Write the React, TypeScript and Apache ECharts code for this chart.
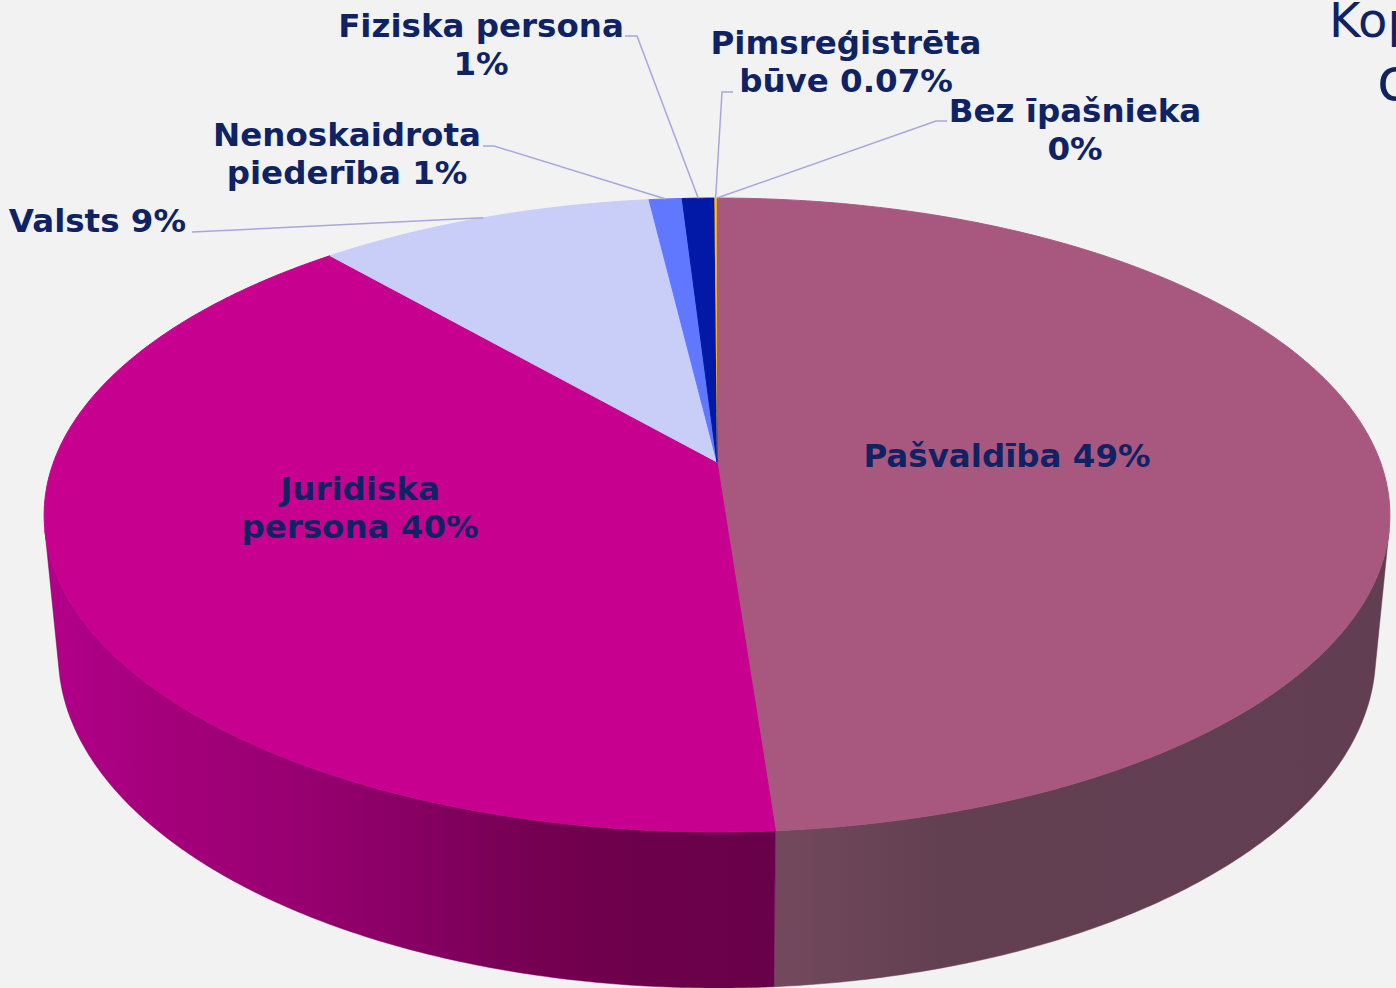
import React, { useEffect, useRef } from 'react';
import * as echarts from 'echarts';

// ---- data ----
const categories = [
  'Pašvaldība',
  'Juridiska persona',
  'Valsts',
  'Nenoskaidrota piederība',
  'Fiziska persona',
  'Pimsreģistrēta būve',
  'Bez īpašnieka',
];
const values = [48.78, 39.72, 9.49, 0.93, 0.9, 0.07, 0.004];
const percentLabels = ['49%', '40%', '9%', '1%', '1%', '0.07%', '0%'];

// ---- styles ----
const topColors = ['#A8587E', '#C8008F', '#C8CEF8', '#5F78FF', '#0219A8', '#FFC000', '#E8302A'];
const wallStops: Array<Array<[number, string]>> = [
  [[0, '#73495E'], [0.14, '#6A4457'], [0.28, '#633F52'], [1, '#613E51']],
  [[0, '#B2008A'], [0.16, '#A4007B'], [0.34, '#980071'], [0.48, '#8A0065'], [0.61, '#7A0058'], [0.71, '#72004F'], [0.83, '#6C004B'], [1, '#69004A']],
  [[0, '#9AA0C8'], [1, '#8A90B8']],
  [[0, '#4058C8'], [1, '#3048B8']],
  [[0, '#011280'], [1, '#011070']],
  [[0, '#C09000'], [1, '#B08000']],
  [[0, '#B02020'], [1, '#A01818']],
];
const TEXT_COLOR = '#0F2364';
const LEADER_COLOR = '#A9A6DA';
const LABEL_FONT = 'bold 32.5px "DejaVu Sans", Verdana, sans-serif';

// label layout (positions only)
const labelLayout = [
  { x: 1007, y: 456, align: 'center', wrap: 0, line: [] as number[][] },
  { x: 360, y: 508, align: 'center', wrap: 1, line: [] as number[][] },
  { x: 186, y: 221, align: 'right', wrap: 0, line: [[192, 232]] },
  { x: 347, y: 154, align: 'center', wrap: 1, line: [[483, 146], [494, 146]] },
  { x: 481, y: 45, align: 'center', wrap: 2, line: [[625, 36], [637, 36]] },
  { x: 846, y: 62, align: 'center', wrap: 1, line: [[733, 92], [722, 92]] },
  { x: 1075, y: 130, align: 'center', wrap: 2, line: [[947, 121], [936, 121]] },
];

// 3D perspective geometry
const PIE = { cx: 717, cy: 462, focal: 3514, dist: 5.297, tilt: Math.asin(0.4644), depth: 0.24 };

function project(t: number, z: number): number[] {
  const s = Math.sin(t);
  const c = Math.cos(t);
  const cp = Math.cos(PIE.tilt);
  const sp = Math.sin(PIE.tilt);
  const d = PIE.dist + c * cp - z * sp;
  return [PIE.cx + (PIE.focal * s) / d, PIE.cy - (PIE.focal * (c * sp + z * cp)) / d];
}

function arc(a0: number, a1: number, z: number): number[][] {
  const n = Math.max(2, Math.ceil(Math.abs(a1 - a0) / 0.008));
  const pts: number[][] = [];
  for (let k = 0; k <= n; k++) pts.push(project(a0 + ((a1 - a0) * k) / n, z));
  return pts;
}

function labelText(i: number): string {
  const words = (categories[i] + ' ' + percentLabels[i]).split(' ');
  const w = labelLayout[i].wrap;
  if (!w) return words.join(' ');
  return words.slice(0, w).join(' ') + '\n' + words.slice(w).join(' ');
}

export default function App() {
  const ref = useRef<HTMLDivElement>(null);

  useEffect(() => {
    document.body.style.margin = '0';
    const chart = echarts.init(ref.current!, null, { renderer: 'svg' });
    const total = values.reduce((a, b) => a + b, 0);
    const starts: number[] = [];
    let acc = 0;
    values.forEach((v) => {
      starts.push((acc / total) * Math.PI * 2);
      acc += v;
    });
    const visLimit = Math.acos(-1 / (PIE.dist * Math.cos(PIE.tilt)));
    const visLo = visLimit;
    const visHi = Math.PI * 2 - visLimit;

    const renderItem = (params: any, api: any) => {
      const i = params.dataIndex;
      const v = api.value(0);
      const a0 = starts[i];
      const a1 = a0 + (v / total) * Math.PI * 2;
      const children: any[] = [];
      const big = a1 - a0 > 0.02;
      // top face
      children.push({
        type: 'polygon',
        z2: 10,
        shape: { points: [[PIE.cx, PIE.cy], ...arc(a0, a1, 0)] },
        style: { fill: topColors[i], stroke: big ? topColors[i] : 'none', lineWidth: big ? 1 : 0 },
      });
      // visible outer wall
      const lo = Math.max(a0, visLo);
      const hi = Math.min(a1, visHi);
      if (hi > lo) {
        const topArc = arc(lo, hi, 0);
        const botArc = arc(hi, lo, -PIE.depth);
        children.push({
          type: 'polygon',
          z2: 2,
          shape: { points: [...topArc, ...botArc] },
          style: {
            fill: new echarts.graphic.LinearGradient(
              0, 0, 1, 0,
              wallStops[i].map(([o, c]) => ({ offset: o, color: c }))
            ),
            stroke: wallStops[i][Math.floor(wallStops[i].length / 2)][1],
            lineWidth: 0.5,
          },
        });
      }
      // label
      const L = labelLayout[i];
      children.push({
        type: 'text',
        z2: 30,
        x: L.x,
        y: L.y,
        style: {
          text: labelText(i),
          fill: TEXT_COLOR,
          font: LABEL_FONT,
          align: L.align,
          verticalAlign: 'middle',
          lineHeight: 38,
        },
      });
      if (L.line.length) {
        const mid = (a0 + a1) / 2;
        const target = project(mid, 0);
        children.push({
          type: 'polyline',
          z2: 25,
          shape: { points: [...L.line, target] },
          style: { stroke: LEADER_COLOR, lineWidth: 1.5, fill: 'none' },
        });
      }
      return { type: 'group', children };
    };

    chart.setOption({
      animation: false,
      backgroundColor: '#F2F2F2',
      graphic: [
        {
          type: 'text',
          x: 1329,
          y: 20,
          style: { text: 'Kop', font: '48px "DejaVu Sans", Verdana, sans-serif', fill: TEXT_COLOR, verticalAlign: 'middle' },
        },
        {
          type: 'text',
          x: 1377,
          y: 80,
          style: { text: 'c', font: '58px "DejaVu Sans", Verdana, sans-serif', fill: TEXT_COLOR, verticalAlign: 'middle' },
        },
      ],
      series: [
        {
          type: 'custom',
          coordinateSystem: 'none',
          silent: true,
          data: values.map((v, i) => ({ name: categories[i], value: v })),
          renderItem,
        },
      ],
    });
    return () => chart.dispose();
  }, []);

  return (
    <div
      ref={ref}
      style={{ position: 'absolute', left: 0, top: 0, width: 1396, height: 988, overflow: 'hidden' }}
    />
  );
}
